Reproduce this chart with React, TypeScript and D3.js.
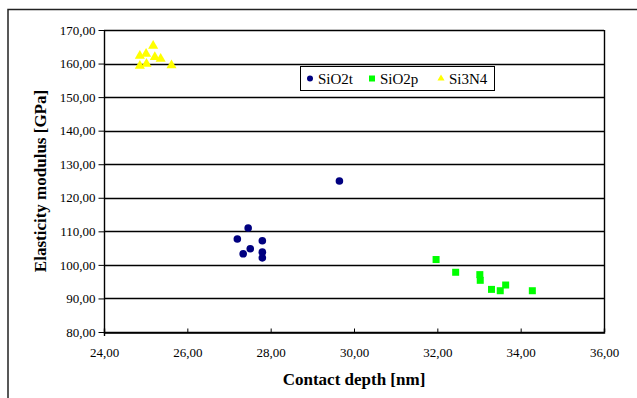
import React, { useEffect, useRef } from "react";
import * as d3 from "d3";

const sio2tDepth = [27.46, 27.2, 27.8, 27.51, 27.34, 27.8, 27.8, 29.65];
const sio2tModulus = [111.0, 107.7, 107.2, 104.8, 103.3, 103.8, 102.1, 125.0];

const sio2pDepth = [31.97, 32.44, 33.02, 33.03, 33.3, 33.51, 33.64, 34.28];
const sio2pModulus = [101.6, 97.8, 97.1, 95.4, 92.7, 92.3, 94.0, 92.3];

const si3n4Depth = [25.18, 25.01, 24.86, 25.22, 25.36, 24.86, 25.02, 25.62];
const si3n4Modulus = [165.3, 162.9, 162.3, 161.9, 161.4, 159.3, 159.9, 159.5];

const xTicks = [24, 26, 28, 30, 32, 34, 36];
const yTicks = [80, 90, 100, 110, 120, 130, 140, 150, 160, 170];

const seriesNames = ["SiO2t", "SiO2p", "Si3N4"];

const fmt = (v: number) => v.toFixed(2).replace(".", ",");

const App: React.FC = () => {
  const ref = useRef<SVGSVGElement | null>(null);

  useEffect(() => {
    const svg = d3.select(ref.current);
    svg.selectAll("*").remove();

    const width = 637;
    const height = 398;
    const margin = { top: 30, right: 33, bottom: 66, left: 104 };
    const font = "'Liberation Serif', 'Times New Roman', serif";

    const x = d3.scaleLinear().domain([24, 36]).range([margin.left, width - margin.right]);
    const y = d3.scaleLinear().domain([80, 170]).range([height - margin.bottom, margin.top]);

    svg.append("rect").attr("width", width).attr("height", height).attr("fill", "#fff");

    // outer chart frame (runs off the picture on right and bottom)
    svg
      .append("rect")
      .attr("x", 8)
      .attr("y", 9.5)
      .attr("width", 660)
      .attr("height", 420)
      .attr("fill", "none")
      .attr("stroke", "#222")
      .attr("stroke-width", 1.5);

    // gridlines
    svg
      .append("g")
      .selectAll("line")
      .data(yTicks)
      .enter()
      .append("line")
      .attr("x1", x(24))
      .attr("x2", x(36))
      .attr("y1", (d) => Math.round(y(d)) + 0.5)
      .attr("y2", (d) => Math.round(y(d)) + 0.5)
      .attr("stroke", "#000")
      .attr("stroke-width", 1.4);

    // right border
    svg
      .append("line")
      .attr("x1", Math.round(x(36)) + 0.5)
      .attr("x2", Math.round(x(36)) + 0.5)
      .attr("y1", y(170))
      .attr("y2", y(80))
      .attr("stroke", "#000")
      .attr("stroke-width", 1.4);

    const yAxis = svg
      .append("g")
      .attr("transform", `translate(${Math.round(x(24)) + 0.5},0)`)
      .call(
        d3
          .axisLeft(y)
          .tickValues(yTicks)
          .tickSize(6)
          .tickPadding(3)
          .tickFormat((d) => fmt(d as number))
      );
    yAxis.select(".domain").attr("stroke", "#000").attr("stroke-width", 1.4).attr("d", `M0,${y(170)}V${y(80) + 4}`);
    yAxis.selectAll("text").attr("font-family", font).attr("font-size", 13).attr("fill", "#000");

    const xAxis = svg
      .append("g")
      .attr("transform", `translate(0,${Math.round(y(80)) + 0.5})`)
      .call(
        d3
          .axisTop(x)
          .tickValues(xTicks)
          .tickSize(4)
          .tickFormat((d) => fmt(d as number))
      );
    xAxis.select(".domain").attr("stroke", "#000").attr("stroke-width", 1.4);
    xAxis
      .selectAll("text")
      .attr("font-family", font)
      .attr("font-size", 13)
      .attr("fill", "#000")
      .attr("y", 20)
      .attr("dy", "0.35em");

    // series
    svg
      .append("g")
      .selectAll("circle")
      .data(sio2tDepth.map((d, i) => [d, sio2tModulus[i]]))
      .enter()
      .append("circle")
      .attr("cx", (d) => x(d[0]))
      .attr("cy", (d) => y(d[1]))
      .attr("r", 3.8)
      .attr("fill", "#000080");

    svg
      .append("g")
      .selectAll("rect")
      .data(sio2pDepth.map((d, i) => [d, sio2pModulus[i]]))
      .enter()
      .append("rect")
      .attr("x", (d) => x(d[0]) - 3.5)
      .attr("y", (d) => y(d[1]) - 3.5)
      .attr("width", 7)
      .attr("height", 7)
      .attr("fill", "#00ff00");

    const tri = d3.symbol().type(d3.symbolTriangle).size(44);
    svg
      .append("g")
      .selectAll("path")
      .data(si3n4Depth.map((d, i) => [d, si3n4Modulus[i]]))
      .enter()
      .append("path")
      .attr("d", tri)
      .attr("transform", (d) => `translate(${x(d[0])},${y(d[1])})`)
      .attr("fill", "#ffff00");

    // legend
    const lg = svg.append("g").attr("transform", "translate(300,66)");
    lg.append("rect")
      .attr("x", 0.5)
      .attr("y", 0.5)
      .attr("width", 194)
      .attr("height", 24)
      .attr("fill", "#fff")
      .attr("stroke", "#000")
      .attr("stroke-width", 1);
    const lx = [10, 72, 141];
    lg.append("circle").attr("cx", lx[0]).attr("cy", 12.5).attr("r", 3).attr("fill", "#000080");
    lg.append("rect").attr("x", lx[1] - 3).attr("y", 9.5).attr("width", 6).attr("height", 6).attr("fill", "#00ff00");
    lg.append("path")
      .attr("d", d3.symbol().type(d3.symbolTriangle).size(22))
      .attr("transform", `translate(${lx[2]},12.5)`)
      .attr("fill", "#ffff00");
    seriesNames.forEach((name, i) => {
      lg.append("text")
        .attr("x", lx[i] + 8)
        .attr("y", 17.5)
        .attr("font-family", font)
        .attr("font-size", 15)
        .text(name);
    });

    // axis titles
    svg
      .append("text")
      .attr("x", (x(24) + x(36)) / 2)
      .attr("y", 385)
      .attr("text-anchor", "middle")
      .attr("font-family", font)
      .attr("font-weight", "bold")
      .attr("font-size", 17)
      .text("Contact depth [nm]");

    svg
      .append("text")
      .attr("transform", "rotate(-90)")
      .attr("x", -(y(80) + y(170)) / 2)
      .attr("y", 46)
      .attr("text-anchor", "middle")
      .attr("font-family", font)
      .attr("font-weight", "bold")
      .attr("font-size", 17)
      .text("Elasticity modulus [GPa]");
  }, []);

  return (
    <div style={{ position: "absolute", left: 0, top: 0 }}>
      <svg ref={ref} width={637} height={398} style={{ display: "block" }}></svg>
    </div>
  );
};

export default App;
